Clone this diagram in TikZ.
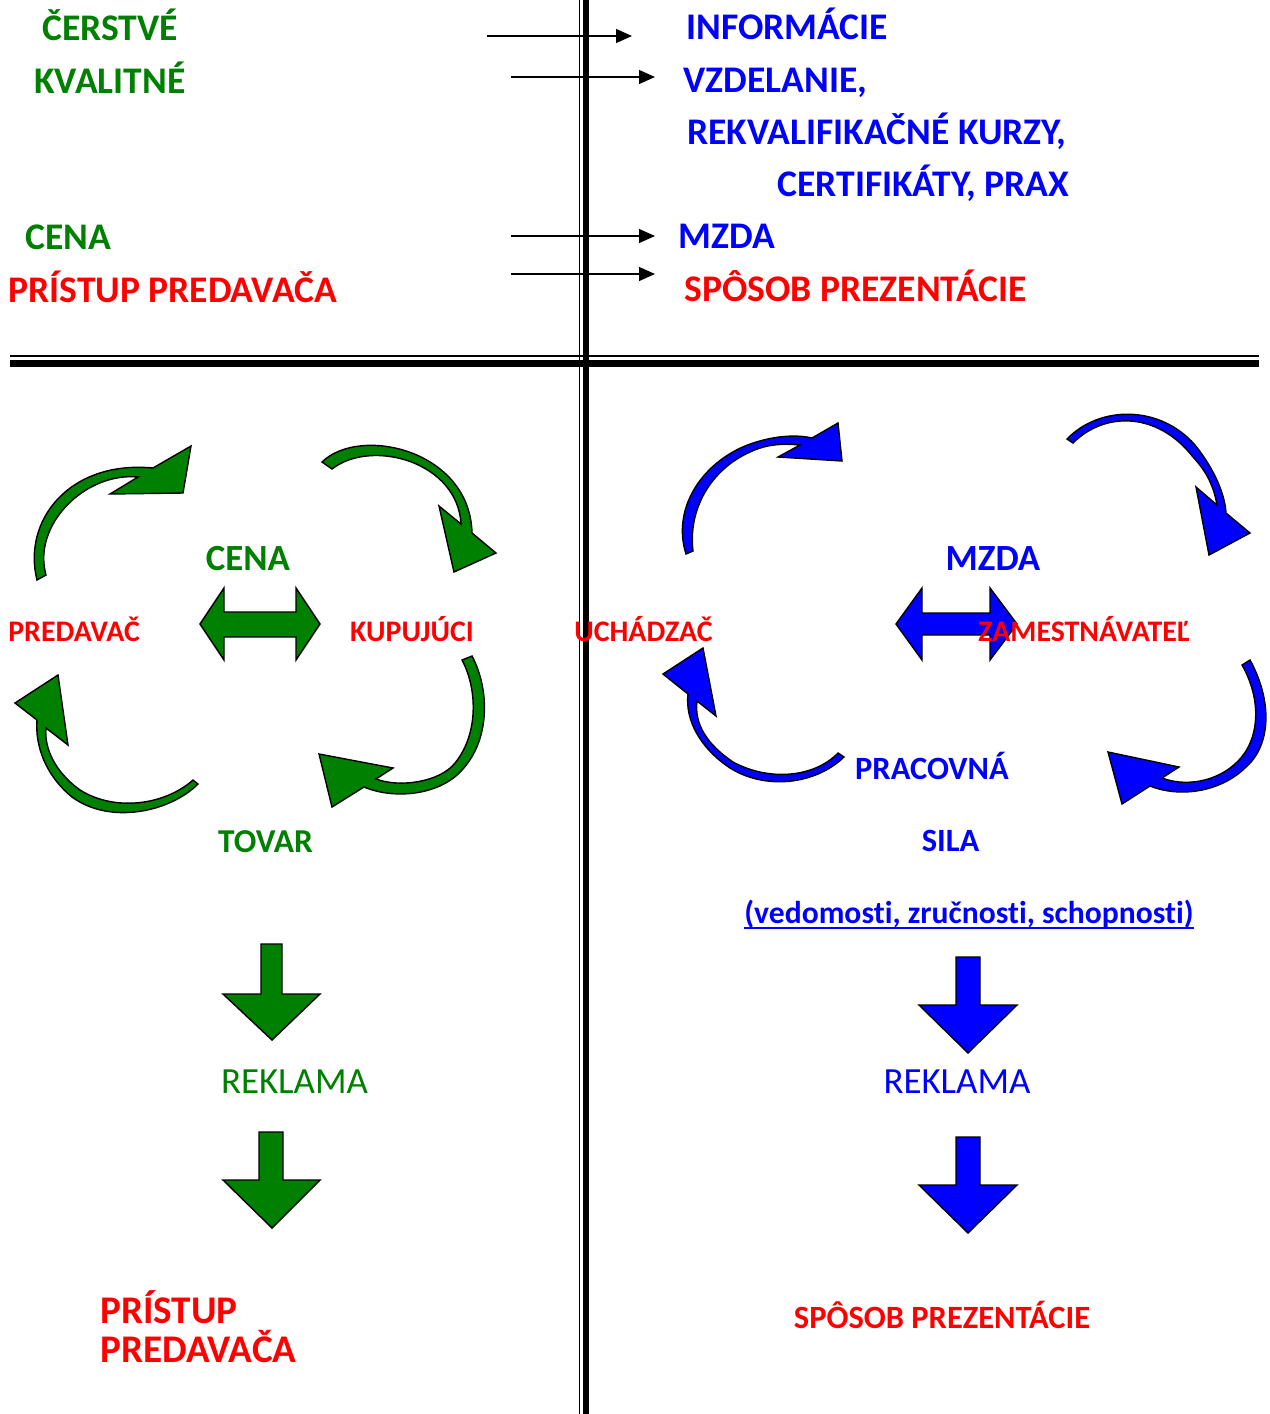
\documentclass[tikz,border=0pt]{standalone}
\usepackage{fontspec}
\setmainfont{Carlito}[Ligatures={NoCommon}]
\definecolor{leafgreen}{RGB}{0,128,0}
\definecolor{pureblue}{RGB}{0,0,255}
\definecolor{purered}{RGB}{255,0,0}
\usetikzlibrary{arrows.meta}

\begin{document}
\begin{tikzpicture}[
  x=0.02cm, y=-0.02cm,
  big/.style={inner sep=0pt, anchor=base west, font=\fontsize{21.4}{25}\selectfont\bfseries},
  lbl/.style={inner sep=0pt, anchor=base, font=\fontsize{17}{20}\selectfont\bfseries},
  lmid/.style={inner sep=0pt, anchor=base, font=\fontsize{18.5}{22}\selectfont\bfseries},
  lbig/.style={inner sep=0pt, anchor=base, font=\fontsize{21}{25}\selectfont\bfseries},
  plain/.style={inner sep=0pt, anchor=base, font=\fontsize{21}{25}\selectfont},
  toparrow/.style={-{Triangle[length=0.32cm, width=0.28cm]}, line width=0.7pt},
  greenshape/.style={fill=leafgreen, draw=black, line width=0.8pt, line join=miter},
  blueshape/.style={fill=pureblue, draw=black, line width=0.8pt, line join=miter},
]
\useasboundingbox (0,0) rectangle (1269,1414);

% Dividing lines
\draw[line width=1pt] (10,356.3) -- (1259,356.3);
\draw[line width=4pt] (10,363.7) -- (1259,363.7);
\draw[line width=1pt] (579.5,0) -- (579.5,1414);
\draw[line width=3.8pt] (586,0) -- (586,1414);

% Top left
\node[big, leafgreen] (fresh) at (42,40) {ČERSTVÉ};
\node[big, leafgreen] (quality) at (34,93) {KVALITNÉ};
\node[big, leafgreen] (price) at (25,249) {CENA};
\node[big, purered] (approach) at (8,302) {PRÍSTUP PREDAVAČA};

% Top right
\node[big, pureblue] (info) at (686,39) {INFORMÁCIE};
\node[big, pureblue] (edu) at (683,92) {VZDELANIE,};
\node[big, pureblue] (courses) at (687,144) {REKVALIFIKAČNÉ KURZY,};
\node[big, pureblue] (certs) at (777,196) {CERTIFIKÁTY, PRAX};
\node[big, pureblue] (wage) at (678,248) {MZDA};
\node[big, purered] (present) at (684,301) {SPÔSOB PREZENTÁCIE};

% Top arrows
\coordinate (a1s) at (487,36);  \coordinate (a1e) at (632,36);
\coordinate (a2s) at (511,77);  \coordinate (a2e) at (655,77);
\coordinate (a3s) at (511,236); \coordinate (a3e) at (655,236);
\coordinate (a4s) at (511,274); \coordinate (a4e) at (655,274);
\draw[toparrow] (a1s) -- (a1e);
\draw[toparrow] (a2s) -- (a2e);
\draw[toparrow] (a3s) -- (a3e);
\draw[toparrow] (a4s) -- (a4e);

% Market cycle (left)
\filldraw[greenshape] (37,580) .. controls (22,520) and (70,460) .. (153,468) -- (191,446) -- (183,493) -- (110,494) -- (138,477) .. controls (85,472) and (32,525) .. (46,575) -- cycle;
\filldraw[greenshape] (322,462) .. controls (360,425) and (470,450) .. (472,533) -- (496,553) -- (454,572) -- (439,506) -- (461,524) .. controls (458,462) and (372,438) .. (332,469) -- cycle;
\filldraw[greenshape] (472,656) .. controls (490,690) and (490,740) .. (462,770) .. controls (440,795) and (395,800) .. (364,787) -- (332,807) -- (319,754) -- (393,768) -- (376,779) .. controls (400,788) and (440,782) .. (455,763) .. controls (478,735) and (478,690) .. (462,660) -- cycle;
\filldraw[greenshape] (198,784) .. controls (170,812) and (110,825) .. (72,797) .. controls (45,775) and (35,745) .. (37,720) -- (15,703) -- (58,675) -- (68,745) -- (46,728) .. controls (44,748) and (55,772) .. (80,790) .. controls (115,812) and (165,805) .. (193,780) -- cycle;
\filldraw[greenshape] (200,624) -- (224,588) -- (224,612) -- (296,612) -- (296,588) -- (320,624) -- (296,660) -- (296,637) -- (224,637) -- (224,660) -- cycle;

\node[lbig, leafgreen] (cena) at (248,570) {CENA};
\node[lbl, purered, anchor=base west] (seller) at (8,641) {PREDAVAČ};
\node[lbl, purered] (buyer) at (412,641) {KUPUJÚCI};
\node[lbl, leafgreen, font=\fontsize{19}{22}\selectfont\bfseries] (goods) at (265.5,852) {TOVAR};

% Labour cycle (right)
\filldraw[blueshape] (686,554) .. controls (672,510) and (700,465) .. (745,446) .. controls (770,436) and (795,434) .. (812,438) -- (838,423) -- (842,461) -- (778,457) -- (800,445) .. controls (780,443) and (765,445) .. (750,452) .. controls (710,470) and (688,510) .. (693,551) -- cycle;
\filldraw[blueshape] (1067,439) .. controls (1100,405) and (1160,405) .. (1195,445) .. controls (1215,470) and (1225,495) .. (1226,513) -- (1250,533) -- (1209,555) -- (1196,487) -- (1217,505) .. controls (1214,487) and (1207,472) .. (1193,457) .. controls (1158,412) and (1105,411) .. (1073,443) -- cycle;
\filldraw[blueshape] (1250,660) .. controls (1272,700) and (1272,745) .. (1245,768) .. controls (1220,792) and (1180,798) .. (1150,786) -- (1122,804) -- (1108,752) -- (1179,767) -- (1162,778) .. controls (1185,787) and (1217,782) .. (1237,762) .. controls (1260,740) and (1262,700) .. (1242,665) -- cycle;
\filldraw[blueshape] (844,757) .. controls (815,785) and (765,790) .. (730,768) .. controls (700,748) and (685,720) .. (688,694) -- (663,674) -- (703,648) -- (716,716) -- (697,701) .. controls (694,725) and (708,745) .. (733,762) .. controls (770,782) and (815,777) .. (838,753) -- cycle;
\filldraw[blueshape] (896,624) -- (922,588) -- (922,613) -- (990,613) -- (990,588) -- (1017,624) -- (990,660) -- (990,635) -- (922,635) -- (922,660) -- cycle;

\node[lbig, pureblue] (mzda) at (993,570) {MZDA};
\node[lbl, purered] (applicant) at (643.5,641) {UCHÁDZAČ};
\node[lbl, purered] (employer) at (1084,641) {ZAMESTNÁVATEĽ};
\node[lmid, pureblue] (labour) at (932,779) {PRACOVNÁ};
\node[lmid, pureblue] (force) at (950.5,851) {SILA};
\node[lmid, pureblue, font=\fontsize{18}{22}\selectfont\bfseries] (skills) at (969,923) {(vedomosti, zručnosti, schopnosti)};
\draw[pureblue, line width=1.1pt] ([yshift=-2.6pt]skills.base west) -- ([yshift=-2.6pt]skills.base east);

% Down arrows (left)
\filldraw[greenshape] (261,944) -- (282,944) -- (282,994) -- (320,994) -- (272,1040) -- (223,994) -- (261,994) -- cycle;
\node[plain, leafgreen] (ad1) at (294.5,1093) {REKLAMA};
\filldraw[greenshape] (259,1132) -- (283,1132) -- (283,1180) -- (320,1180) -- (272,1228) -- (223,1180) -- (259,1180) -- cycle;
\node[big, purered, font=\fontsize{22.3}{26}\selectfont\bfseries] (appr1) at (100,1323) {PRÍSTUP};
\node[big, purered, font=\fontsize{22.3}{26}\selectfont\bfseries] (appr2) at (100,1362) {PREDAVAČA};

% Down arrows (right)
\filldraw[blueshape] (956,957) -- (980,957) -- (980,1005) -- (1017,1005) -- (968,1053) -- (919,1005) -- (956,1005) -- cycle;
\node[plain, pureblue] (ad2) at (957,1093) {REKLAMA};
\filldraw[blueshape] (956,1137) -- (980,1137) -- (980,1185) -- (1017,1185) -- (968,1233) -- (919,1185) -- (956,1185) -- cycle;
\node[lmid, purered] (pres2) at (942,1328) {SPÔSOB PREZENTÁCIE};
\end{tikzpicture}
\end{document}
